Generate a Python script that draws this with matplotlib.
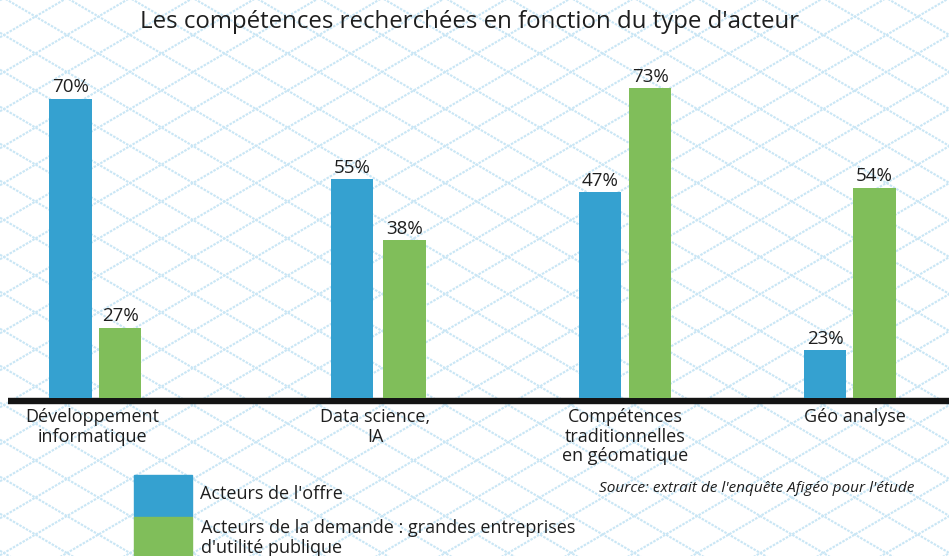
import matplotlib.pyplot as plt
import numpy as np

plt.rcParams['font.family'] = ['Open Sans', 'DejaVu Sans']

categories = ["Développement\ninformatique", "Data science,\nIA",
              "Compétences\ntraditionnelles\nen géomatique", "Géo analyse"]
# values printed above the bars
offre = [70, 55, 47, 23]
demande = [27, 38, 73, 54]
# bar heights as drawn in the original (not proportional to the printed values)
offre_drawn = [70.6, 51.6, 48.5, 11.3]
demande_drawn = [16.6, 37.2, 73.0, 49.6]
series_names = ["Acteurs de l'offre",
                "Acteurs de la demande : grandes entreprises\nd'utilité publique"]
title = "Les compétences recherchées en fonction du type d'acteur"
source = "Source: extrait de l'enquête Afigéo pour l'étude"

blue = "#35a1d0"
green = "#80be5a"
txt = "#1e1e1e"

W, H = 949, 556
fig = plt.figure(figsize=(W / 100, H / 100), dpi=100)

# background lattice, in pixel coordinates
bg = fig.add_axes([0, 0, 1, 1], zorder=-1)
bg.set_xlim(0, W)
bg.set_ylim(H, 0)
bg.axis("off")
slope = 0.587
step = 37
xs = np.array([0, W])
for k in range(-20, 40):
    bg.plot(xs, -4.3 + k * step + slope * xs, color="#c9e6f5", lw=1.5, ls=(0, (1.2, 0.6)), zorder=1)
    bg.plot(xs, 222.3 + k * step - slope * xs, color="#c9e6f5", lw=1.5, ls=(0, (1.2, 0.6)), zorder=1)

# main axes: bottom at baseline (y=398 px from top)
base = 398
px_per_unit = 4.242
ax = fig.add_axes([0, (H - base) / H, 1, base / H])
ax.set_xlim(0, W)
ax.set_ylim(0, base / px_per_unit)
ax.axis("off")
ax.patch.set_alpha(0)

blue_x = [70.3, 352.2, 600.2, 825.2]
green_x = [120.2, 404.3, 650.2, 874.5]
label_x = [92, 375, 625, 855]
bw = 42.5
ax.bar(blue_x, offre_drawn, width=bw, color=blue)
ax.bar(green_x, demande_drawn, width=bw, color=green)
for i in range(4):
    ax.text(blue_x[i], offre_drawn[i] + 0.5, f"{offre[i]}%", ha="center", va="bottom",
            fontsize=13.5, color=txt)
    ax.text(green_x[i], demande_drawn[i] + 0.5, f"{demande[i]}%", ha="center", va="bottom",
            fontsize=13.5, color=txt)

# baseline
bg.plot([8, W], [base + 3, base + 3], color="#141414", lw=4.6, solid_capstyle="butt", zorder=3)

for lx, lab in zip(label_x, categories):
    bg.text(lx, base + 10, lab, ha="center", va="top", fontsize=13, color=txt, linespacing=1.12)

bg.text(470, 22, title, ha="center", va="center", fontsize=17.3, color=txt)

# legend
bg.add_patch(plt.Rectangle((134, 475), 58, 41, color=blue, zorder=3))
bg.add_patch(plt.Rectangle((134, 517), 58, 45, color=green, zorder=3))
bg.text(200, 494, series_names[0], ha="left", va="center", fontsize=13, color=txt)
bg.text(201, 538, series_names[1], ha="left", va="center", fontsize=13, color=txt, linespacing=1.12)
bg.text(914, 489, source, ha="right", va="center", fontsize=11.1, style="italic", color=txt)

fig.savefig("out.png", dpi=100)
